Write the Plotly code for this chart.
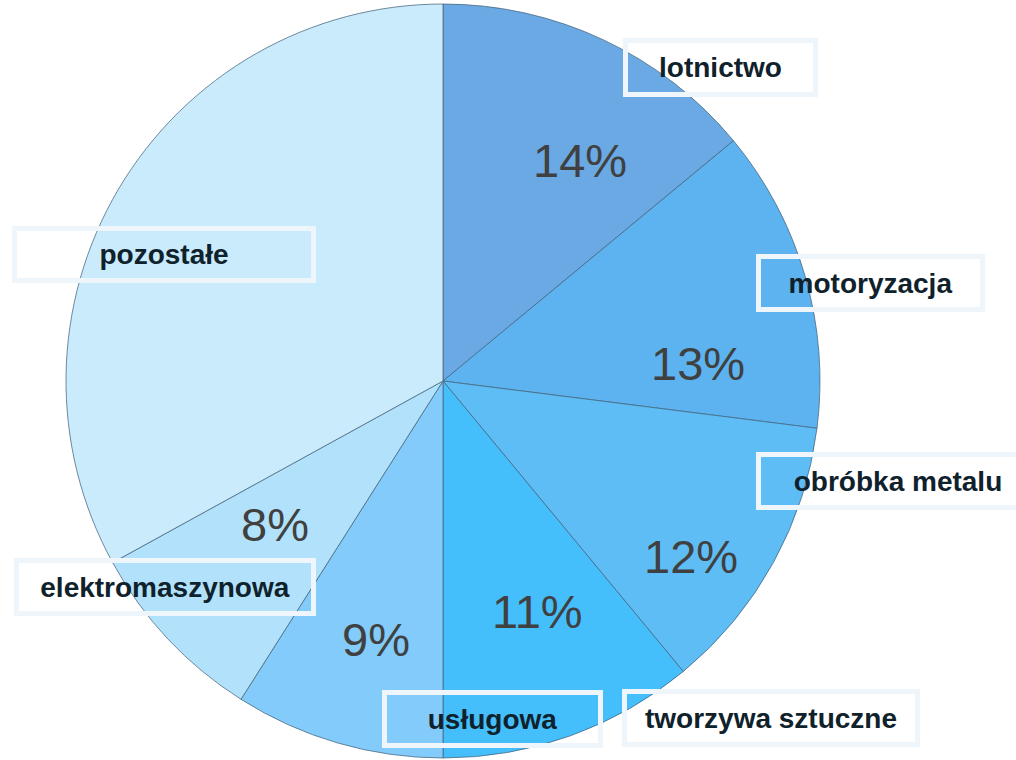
import plotly.graph_objects as go

W, H = 1016, 760

# ---- data ----
categories = ["lotnictwo", "motoryzacja", "obróbka metalu", "tworzywa sztuczne",
              "usługowa", "elektromaszynowa", "pozostałe"]
shares = [14, 13, 12, 11, 9, 8, 33]
show_pct = [True, True, True, True, True, True, False]

# ---- styles ----
colors = ["#6aa9e3", "#5cb3ef", "#5fbdf5", "#45befc", "#82cbfa", "#b2e2fb", "#c9ebfc"]

# label boxes: (x0, y0, x1, y1) in pixels
label_boxes = [
    (623, 38, 818, 97),
    (756, 254, 985, 312),
    (756, 452, 1040, 510),
    (622, 689, 920, 747),
    (382, 690, 603, 748),
    (14, 558, 316, 616),
    (12, 226, 316, 283),
]
pct_pos = [(580, 161), (698, 364), (691, 556), (537, 611), (376, 639), (275, 524), None]

cx, cy, R = 443, 381, 377

fig = go.Figure(go.Pie(
    labels=categories,
    values=shares,
    sort=False,
    direction="clockwise",
    rotation=0,
    textinfo="none",
    hoverinfo="label+percent",
    marker=dict(colors=colors, line=dict(color="rgba(70,100,125,0.75)", width=1)),
    domain=dict(x=[(cx - R) / W, (cx + R) / W],
                y=[(H - cy - R) / H, (H - cy + R) / H]),
    showlegend=False,
))

annotations = []
bw = 5
for name, (x0, y0, x1, y1) in zip(categories, label_boxes):
    annotations.append(dict(
        x=(x0 + x1) / 2 / W, y=1 - (y0 + y1) / 2 / H,
        xref="paper", yref="paper", xanchor="center", yanchor="middle",
        text=f"<b>{name}</b>", showarrow=False,
        font=dict(family="Liberation Sans, Arial, sans-serif", size=28, color="#0f222c"),
        width=(x1 - x0) - 2 * bw, height=(y1 - y0) - 2 * bw,
        bordercolor="#eef6fc", borderwidth=bw, borderpad=0,
        align="center", valign="middle",
    ))
for v, show, pos in zip(shares, show_pct, pct_pos):
    if not show:
        continue
    annotations.append(dict(
        x=pos[0] / W, y=1 - pos[1] / H, xref="paper", yref="paper",
        xanchor="center", yanchor="middle", showarrow=False,
        text=f"{v}%",
        font=dict(family="Liberation Sans, Arial, sans-serif", size=47, color="#404040"),
    ))

fig.update_layout(
    width=W, height=H,
    margin=dict(l=0, r=0, t=0, b=0),
    paper_bgcolor="white", plot_bgcolor="white",
    annotations=annotations,
)

fig.write_html("out.html",
               config={"displayModeBar": False},
               post_script="document.body.style.margin='0';document.body.style.overflow='hidden';")
